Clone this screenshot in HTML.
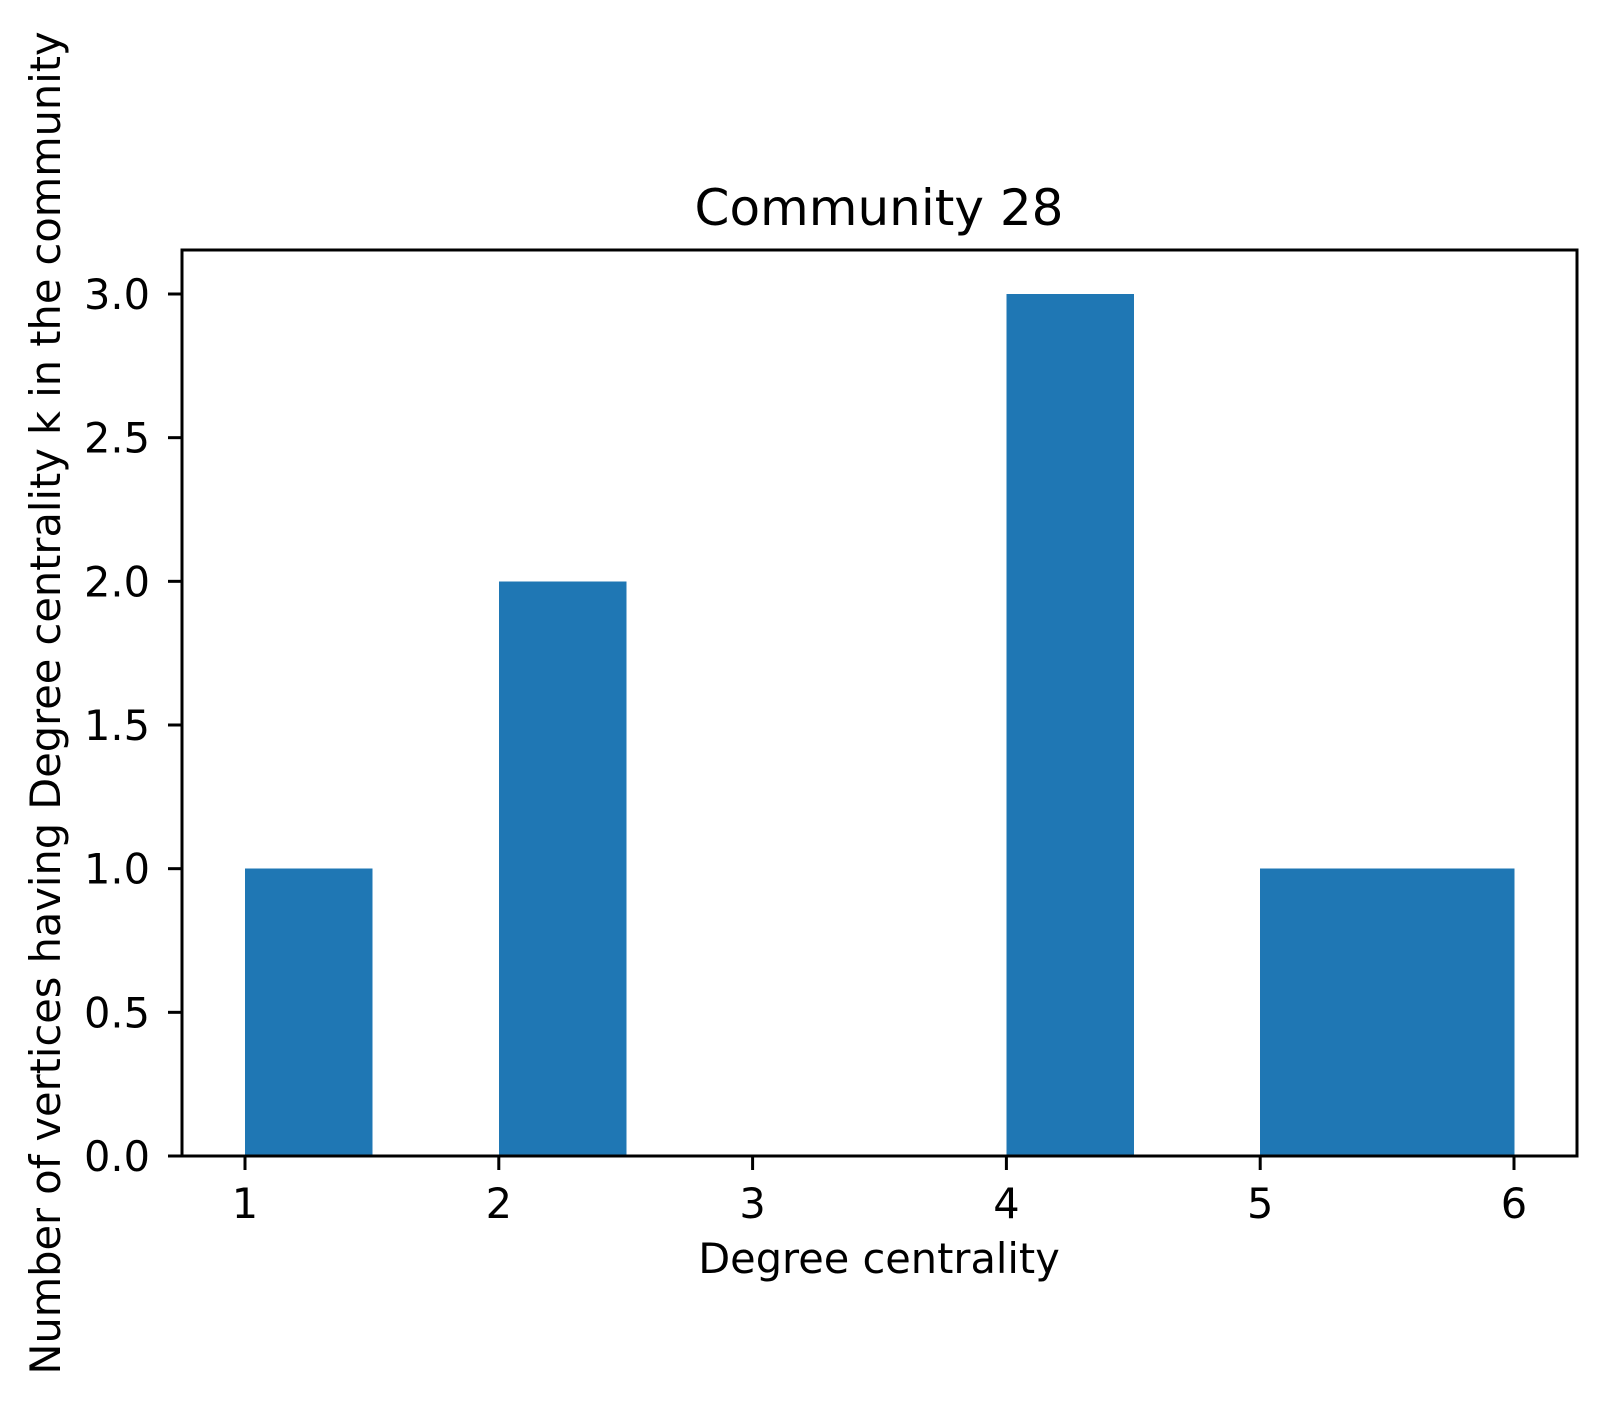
<!DOCTYPE html>
<html><head><meta charset="utf-8"><style>
body{margin:0;background:#fff}
svg text{font-family:"DejaVu Sans","Liberation Sans",sans-serif;fill:#000}
</style></head><body>
<svg id="chart" width="1607" height="1407" xmlns="http://www.w3.org/2000/svg">
<rect width="1607" height="1407" fill="#fff"/>
<g id="bars" shape-rendering="crispEdges"></g>
<g id="axes"></g>
<text x="879" y="225" font-size="50" text-anchor="middle">Community 28</text>
<text x="879" y="1273" font-size="41.5" text-anchor="middle">Degree centrality</text>
<text transform="translate(60,703) rotate(-90)" font-size="41.5" text-anchor="middle">Number of vertices having Degree centrality k in the community</text>
</svg>
<script>
const binEdges=[1,1.5,2,2.5,3,3.5,4,4.5,5,5.5,6];
const counts=[1,0,2,0,0,0,3,0,1,1];
const xTicks=[1,2,3,4,5,6];
const yTicks=[0,0.5,1,1.5,2,2.5,3];
const yTickLabels=["0.0","0.5","1.0","1.5","2.0","2.5","3.0"];
const L=182,R=1577,T=250,B=1156;
function xs(v){return 245+(v-1)*(1514-245)/5;}
function ys(v){return 1156-v*(1156-294)/3;}
const NS="http://www.w3.org/2000/svg";
const bars=document.getElementById('bars'),axes=document.getElementById('axes');
function mk(tag,attrs,parent){const e=document.createElementNS(NS,tag);for(const k in attrs)e.setAttribute(k,attrs[k]);parent.appendChild(e);return e;}
counts.forEach((c,i)=>{if(c<=0)return;
const r=mk('rect',{x:xs(binEdges[i]),y:ys(c),width:xs(binEdges[i+1])-xs(binEdges[i])+0.6,height:ys(0)-ys(c),fill:'#1f77b4'},bars);

});
const fr=mk('rect',{x:L,y:T,width:R-L,height:B-T,fill:'none',stroke:'#000','stroke-width':3},axes);


xTicks.forEach(t=>{const x=xs(t);
const l=mk('line',{x1:x,x2:x,y1:B,y2:B+14,stroke:'#000','stroke-width':3},axes);


const tx=mk('text',{x:x,y:1218,'font-size':41.5,'text-anchor':'middle'},axes);tx.textContent=t;

});
yTicks.forEach((t,i)=>{const y=ys(t);
const l=mk('line',{x1:L-14,x2:L,y1:y,y2:y,stroke:'#000','stroke-width':3},axes);


const tx=mk('text',{x:150,y:y+15,'font-size':41.5,'text-anchor':'end'},axes);tx.textContent=yTickLabels[i];

});
</script>
</body></html>
